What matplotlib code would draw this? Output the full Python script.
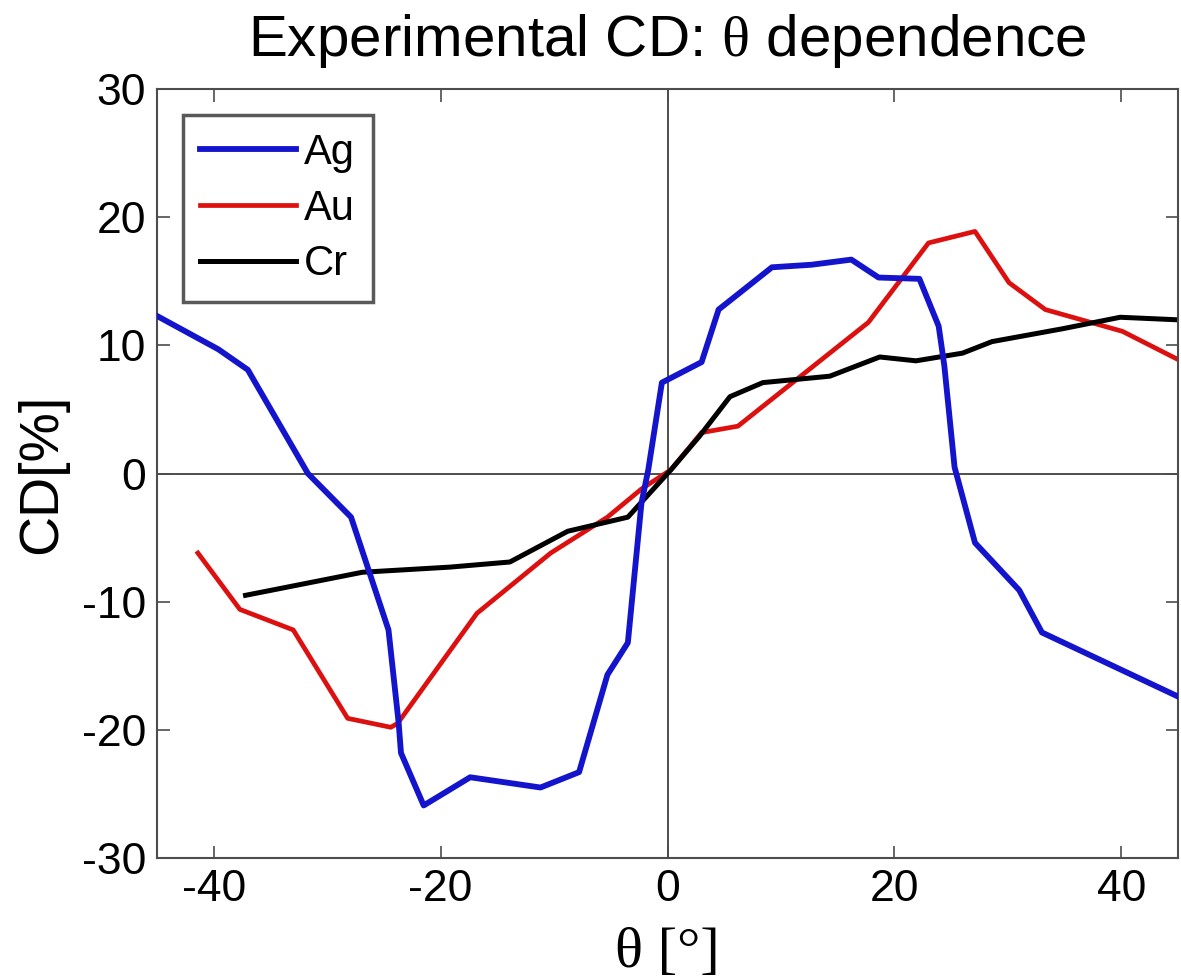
import matplotlib
matplotlib.use("Agg")
import matplotlib.pyplot as plt

# angle scans (deg) and measured CD (%) for the three films
ag_theta = [-45, -39.6, -37, -31.7, -27.9, -24.6, -23.7, -23.5, -21.5, -17.4, -11.2, -7.8,
            -5.3, -3.5, -2.3, -1.7, -0.5, 3, 4.5, 9.2, 12.7, 16.2, 18.6, 22.2, 23.9,
            24.4, 25.3, 27.1, 31, 33, 45]
ag_cd = [12.3, 9.7, 8.1, 0, -3.4, -12.2, -19.5, -21.8, -25.9, -23.7, -24.5, -23.3,
         -15.7, -13.2, -2.3, 0.3, 7.1, 8.7, 12.8, 16.1, 16.3, 16.7, 15.3, 15.2, 11.5,
         8.4, 0.5, -5.4, -9.1, -12.4, -17.4]

au_theta = [-41.4, -37.7, -33, -28.2, -24.4, -23.8, -16.8, -10.3, -5.3, -2.3, 0.3, 3,
            6.2, 10.6, 17.7, 23, 27.1, 30.1, 33.3, 40.1, 45]
au_cd = [-6.2, -10.6, -12.2, -19.1, -19.8, -19.5, -10.9, -6.2, -3.4, -1.2, 0.3, 3.2,
         3.7, 6.8, 11.8, 18, 18.9, 14.9, 12.8, 11.1, 8.9]

cr_theta = [-37.2, -34.9, -26.9, -19.2, -13.9, -8.8, -3.5, 0.3, 2.8, 5.5, 8.4, 14.3,
            18.7, 21.9, 26, 28.6, 34.8, 39.9, 45]
cr_cd = [-9.5, -9.1, -7.7, -7.3, -6.9, -4.5, -3.4, 0.3, 2.9, 6.0, 7.1, 7.6,
         9.1, 8.8, 9.4, 10.3, 11.3, 12.2, 12.0]

x_ticks = [-40, -20, 0, 20, 40]
y_ticks = [-30, -20, -10, 0, 10, 20, 30]

plt.rcParams['font.family'] = ['Liberation Sans', 'DejaVu Sans']
plt.rcParams['axes.unicode_minus'] = False
plt.rcParams['mathtext.fontset'] = 'custom'
plt.rcParams['mathtext.rm'] = 'Liberation Serif'

fig = plt.figure(figsize=(11.81, 9.8), dpi=100)
ax = fig.add_axes([0.133, 0.1245, 0.8645, 0.7845])

ax.axhline(0, color='0.25', lw=1.3, zorder=1)
ax.axvline(0, color='0.25', lw=1.3, zorder=1)

ax.plot(ag_theta, ag_cd, color='#1414cc', lw=4.2, label='Ag', zorder=3)
ax.plot(au_theta, au_cd, color='#dd1010', lw=3.4, label='Au', zorder=2)
ax.plot(cr_theta, cr_cd, color='black', lw=3.6, label='Cr', zorder=2)

ax.set_xlim(-45, 45)
ax.set_ylim(-30, 30)
ax.set_xticks(x_ticks)
ax.set_yticks(y_ticks)
ax.tick_params(direction='in', top=True, right=True, length=9, width=1.2,
               labelsize=32, color='0.3', pad=8)
for sp in ax.spines.values():
    sp.set_color('0.3')
    sp.set_linewidth(1.5)

ax.set_title(r'Experimental CD: $\mathrm{\theta}$ dependence', fontsize=42, pad=24)
ax.set_xlabel('θ [°]', family=['Liberation Serif', 'DejaVu Serif'], fontsize=42, labelpad=12)
ax.set_ylabel('CD[%]', fontsize=40, labelpad=10)

leg = ax.legend(loc='upper left', bbox_to_anchor=(0.025, 0.966), borderaxespad=0,
                fontsize=30, handlelength=2.3, handletextpad=0.2, labelspacing=0.38,
                borderpad=0.42, fancybox=False, framealpha=1)
leg.get_frame().set_edgecolor('0.35')
leg.get_frame().set_linewidth(2.5)

fig.savefig('out.png', dpi=100)
